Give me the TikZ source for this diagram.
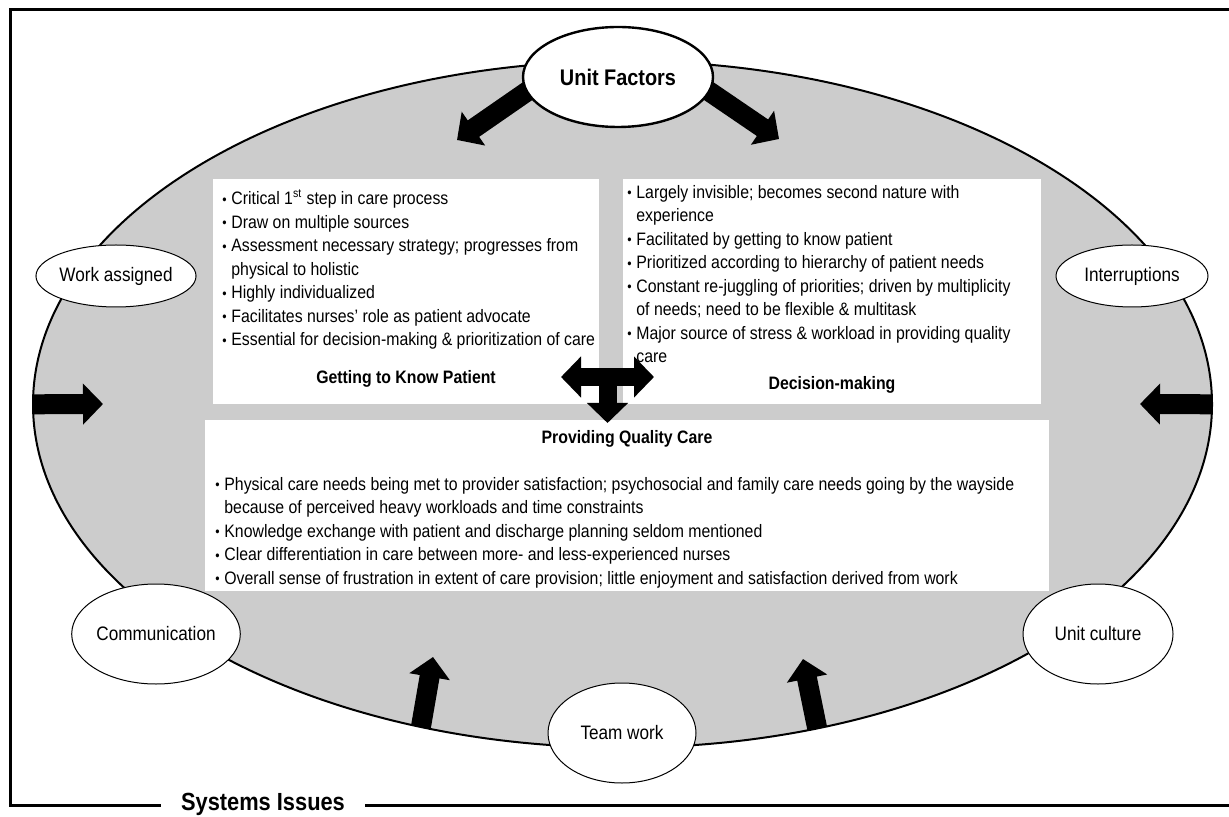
\documentclass[tikz,border=0pt]{standalone}
\usepackage{fontspec}
\setmainfont{Liberation Sans}[FakeStretch=0.88]
\usepackage{tikz}
\usetikzlibrary{shapes.geometric, arrows.meta, positioning}

\definecolor{sysgray}{gray}{0.8}
\pgfdeclarelayer{bg}
\pgfdeclarelayer{fg}
\pgfsetlayers{bg,main,fg}

\newcommand{\bul}{\makebox[4.5pt][l]{\raisebox{0.3pt}{\scriptsize\textbullet}}}
\newcommand{\cont}{\hspace*{4.5pt}}

\begin{document}
\begin{tikzpicture}[
        x=0.5pt, y=-0.5pt,
        >={Triangle[width=20pt, length=10pt]},
        fatarrow/.style={->, line width=10pt},
        textbox/.style={rectangle, fill=white, inner sep=0pt, outer sep=0pt},
        listtext/.style={align=left, inner sep=0pt, font=\fontsize{9}{11.75}\selectfont},
        boxtitle/.style={inner sep=0pt, font=\fontsize{9}{11}\selectfont\bfseries},
        factor/.style={ellipse, draw, fill=white, line width=0.5pt, inner sep=0pt, minimum width=75pt, minimum height=50pt, font=\fontsize{9.75}{11}\selectfont}
    ]
    \useasboundingbox (0,0) rectangle (1229,817);
    \draw[line width=1.5pt] (10,10) rectangle (1232,805);

    % the system as a whole
    \begin{pgfonlayer}{bg}
        \node[ellipse, draw, line width=1pt, fill=sysgray, inner sep=0pt, outer sep=0pt, minimum width=589.5pt, minimum height=343.3pt] (sys) at (622.5,404.3) {};
    \end{pgfonlayer}

    % the three themes
    \node[textbox, minimum width=193pt, minimum height=112.5pt] (gk) at (406,291.5) {};
    \node[textbox, minimum width=209pt, minimum height=112.5pt] (dm) at (832,291.5) {};
    \node[textbox, minimum width=422pt, minimum height=85.5pt] (qc) at (627,505.5) {};

    \node[listtext, below right=5pt and 4.5pt of gk.north west] (gklist) {%
        \bul Critical 1\textsuperscript{st} step in care process\\
        \bul Draw on multiple sources\\
        \bul Assessment necessary strategy; progresses from\\
        \cont physical to holistic\\
        \bul Highly individualized\\
        \bul Facilitates nurses’ role as patient advocate\\
        \bul Essential for decision-making \& prioritization of care};
    \node[boxtitle, above=8pt of gk.south] (gktitle) {Getting to Know Patient};

    \node[listtext, below right=3pt and 2pt of dm.north west] (dmlist) {%
        \bul Largely invisible; becomes second nature with\\
        \cont experience\\
        \bul Facilitated by getting to know patient\\
        \bul Prioritized according to hierarchy of patient needs\\
        \bul Constant re-juggling of priorities; driven by multiplicity\\
        \cont of needs; need to be flexible \& multitask\\
        \bul Major source of stress \& workload in providing quality\\
        \cont care};
    \node[boxtitle, above=5pt of dm.south] (dmtitle) {Decision-making};

    \node[boxtitle, below=5pt of qc.north] (qctitle) {Providing Quality Care};
    \node[listtext, below right=28.5pt and 5pt of qc.north west] (qclist) {%
        \bul Physical care needs being met to provider satisfaction; psychosocial and family care needs going by the wayside\\
        \cont because of perceived heavy workloads and time constraints\\
        \bul Knowledge exchange with patient and discharge planning seldom mentioned\\
        \bul Clear differentiation in care between more- and less-experienced nurses\\
        \bul Overall sense of frustration in extent of care provision; little enjoyment and satisfaction derived from work};

    % factors round the system
    \begin{pgfonlayer}{fg}
        \node[factor, line width=1.2pt, minimum width=95pt, font=\fontsize{11.3}{13}\selectfont\bfseries] (uf) at (618,77) {Unit Factors};
        \node[factor, minimum width=76pt, minimum height=31pt] (wa) at (116,276) {Work assigned};
        \node[factor, minimum width=76pt, minimum height=31pt] (ir) at (1132,276) {Interruptions};
        \node[factor] (cm) at (156,634) {Communication};
        \node[factor] (uc) at (1098,634) {Unit culture};
        \node[factor, minimum width=74pt] (tw) at (622,733) {Team work};
        \node[fill=white, inner xsep=10pt, inner ysep=1pt, font=\fontsize{12.4}{14}\selectfont\bfseries] (sysname) at (263,804) {Systems Issues};
    \end{pgfonlayer}

    % arrow ends
    \coordinate (ufl) at (457,140);
    \coordinate (ufr) at (779,139);
    \coordinate (leftin) at (103,404);
    \coordinate (rightin) at (1140,404);
    \coordinate (botl) at (433,657);
    \coordinate (botr) at (803,659);
    \coordinate (gkend) at (561,377);
    \coordinate (dmend) at (654,377);
    \coordinate (hub) at (607.5,377);
    \coordinate (qcend) at (607.5,423);

    \draw[fatarrow] ([xshift=-35pt]uf.center) -- (ufl);
    \draw[fatarrow] ([xshift=35pt]uf.center) -- (ufr);
    \draw[fatarrow] (sys.west) -- (leftin);
    \draw[fatarrow] (sys.east) -- (rightin);
    \draw[fatarrow] (sys.238) -- (botl);
    \draw[fatarrow] (sys.301) -- (botr);

    % links between the themes
    \draw[fatarrow, <->, line width=9pt] (gkend) -- (dmend);
    \draw[fatarrow, line width=9pt] (hub) -- (qcend);

\end{tikzpicture}
\end{document}
